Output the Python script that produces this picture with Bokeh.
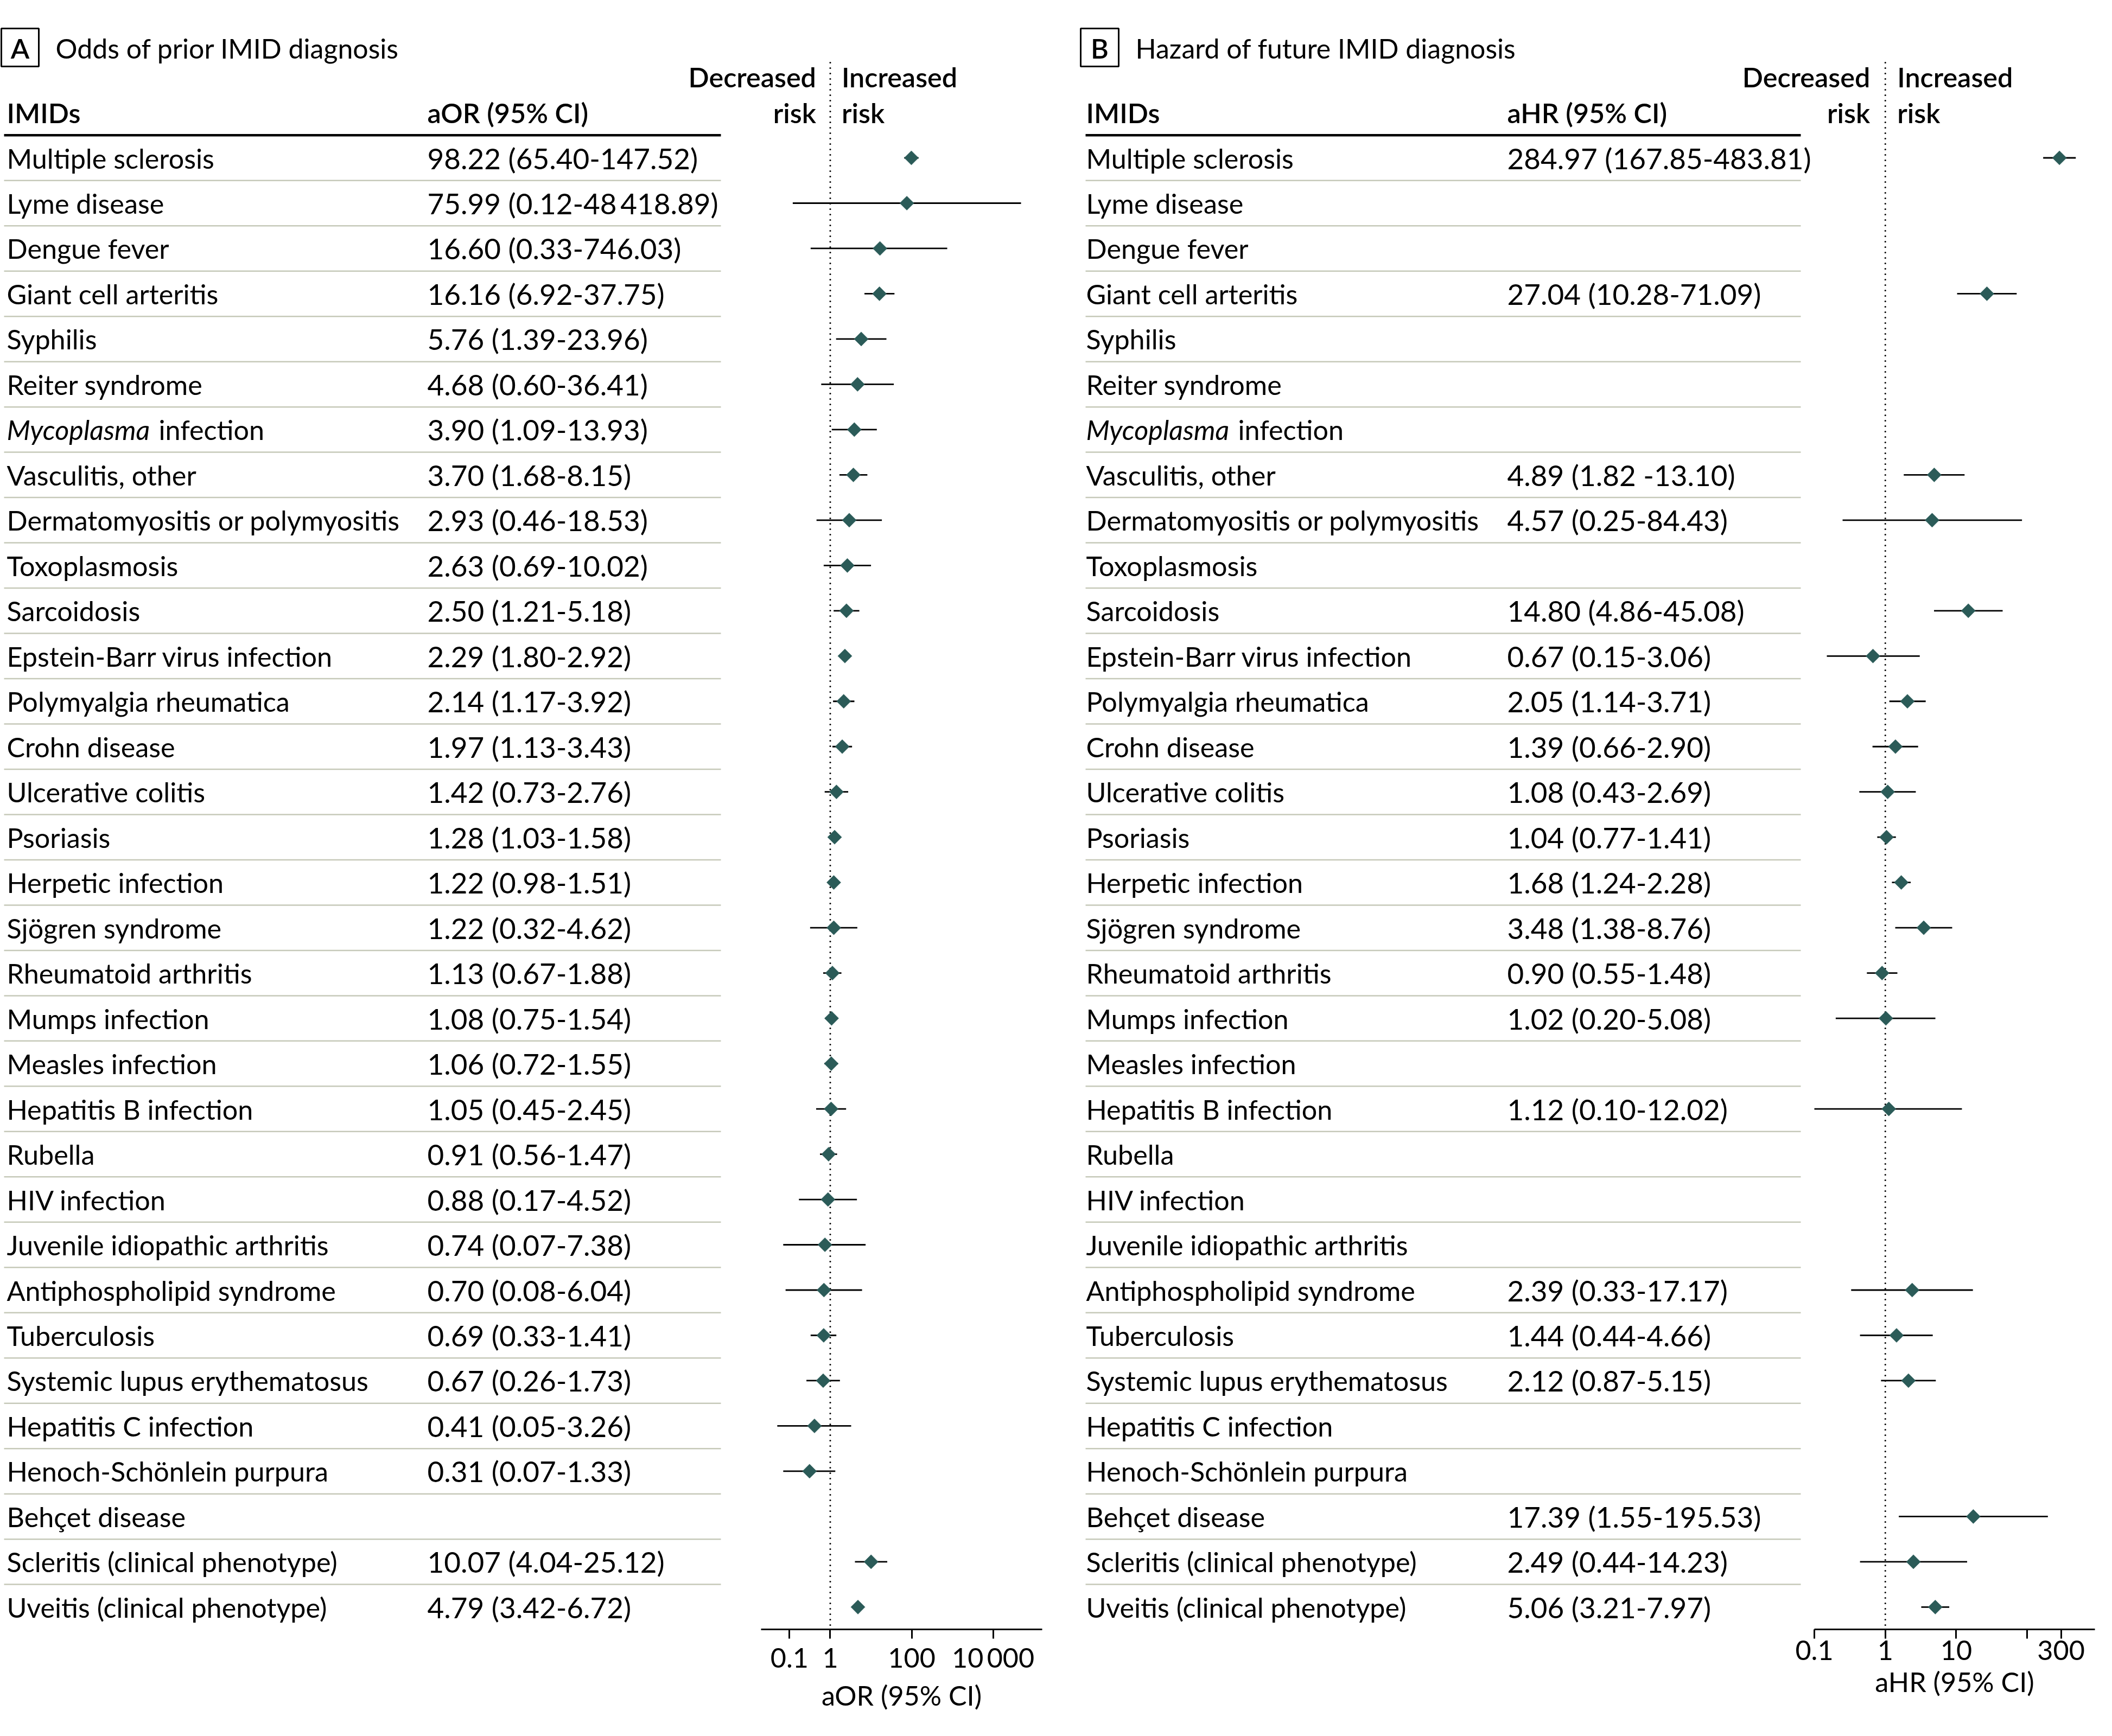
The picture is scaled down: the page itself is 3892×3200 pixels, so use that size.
import math
import json
import numpy as np
from bokeh.plotting import figure
from bokeh.models import Range1d, LogScale, FixedTicker, CustomJSTickFormatter, Spacer
from bokeh.layouts import column, row
from bokeh.embed import file_html
from bokeh.resources import INLINE
from bokeh.core.properties import value

nan = float("nan")

# ---------------- data ----------------
imids = ["Multiple sclerosis", "Lyme disease", "Dengue fever", "Giant cell arteritis", "Syphilis",
         "Reiter syndrome", "Mycoplasma infection", "Vasculitis, other", "Dermatomyositis or polymyositis",
         "Toxoplasmosis", "Sarcoidosis", "Epstein-Barr virus infection", "Polymyalgia rheumatica",
         "Crohn disease", "Ulcerative colitis", "Psoriasis", "Herpetic infection", "Sjögren syndrome",
         "Rheumatoid arthritis", "Mumps infection", "Measles infection", "Hepatitis B infection", "Rubella",
         "HIV infection", "Juvenile idiopathic arthritis", "Antiphospholipid syndrome", "Tuberculosis",
         "Systemic lupus erythematosus", "Hepatitis C infection", "Henoch-Schönlein purpura",
         "Behçet disease", "Scleritis (clinical phenotype)", "Uveitis (clinical phenotype)"]

aor = [98.22, 75.99, 16.60, 16.16, 5.76, 4.68, 3.90, 3.70, 2.93, 2.63, 2.50, 2.29, 2.14, 1.97, 1.42, 1.28,
       1.22, 1.22, 1.13, 1.08, 1.06, 1.05, 0.91, 0.88, 0.74, 0.70, 0.69, 0.67, 0.41, 0.31, nan, 10.07, 4.79]
aor_lo = [65.40, 0.12, 0.33, 6.92, 1.39, 0.60, 1.09, 1.68, 0.46, 0.69, 1.21, 1.80, 1.17, 1.13, 0.73, 1.03,
          0.98, 0.32, 0.67, 0.75, 0.72, 0.45, 0.56, 0.17, 0.07, 0.08, 0.33, 0.26, 0.05, 0.07, nan, 4.04, 3.42]
aor_hi = [147.52, 48418.89, 746.03, 37.75, 23.96, 36.41, 13.93, 8.15, 18.53, 10.02, 5.18, 2.92, 3.92, 3.43,
          2.76, 1.58, 1.51, 4.62, 1.88, 1.54, 1.55, 2.45, 1.47, 4.52, 7.38, 6.04, 1.41, 1.73, 3.26, 1.33, nan,
          25.12, 6.72]
aor_labels = ["98.22 (65.40-147.52)", "75.99 (0.12-48\u2009418.89)", "16.60 (0.33-746.03)",
              "16.16 (6.92-37.75)", "5.76 (1.39-23.96)", "4.68 (0.60-36.41)", "3.90 (1.09-13.93)",
              "3.70 (1.68-8.15)", "2.93 (0.46-18.53)", "2.63 (0.69-10.02)", "2.50 (1.21-5.18)",
              "2.29 (1.80-2.92)", "2.14 (1.17-3.92)", "1.97 (1.13-3.43)", "1.42 (0.73-2.76)",
              "1.28 (1.03-1.58)", "1.22 (0.98-1.51)", "1.22 (0.32-4.62)", "1.13 (0.67-1.88)",
              "1.08 (0.75-1.54)", "1.06 (0.72-1.55)", "1.05 (0.45-2.45)", "0.91 (0.56-1.47)",
              "0.88 (0.17-4.52)", "0.74 (0.07-7.38)", "0.70 (0.08-6.04)", "0.69 (0.33-1.41)",
              "0.67 (0.26-1.73)", "0.41 (0.05-3.26)", "0.31 (0.07-1.33)", "", "10.07 (4.04-25.12)",
              "4.79 (3.42-6.72)"]

ahr = [284.97, nan, nan, 27.04, nan, nan, nan, 4.89, 4.57, nan, 14.80, 0.67, 2.05, 1.39, 1.08, 1.04, 1.68,
       3.48, 0.90, 1.02, nan, 1.12, nan, nan, nan, 2.39, 1.44, 2.12, nan, nan, 17.39, 2.49, 5.06]
ahr_lo = [167.85, nan, nan, 10.28, nan, nan, nan, 1.82, 0.25, nan, 4.86, 0.15, 1.14, 0.66, 0.43, 0.77, 1.24,
          1.38, 0.55, 0.20, nan, 0.10, nan, nan, nan, 0.33, 0.44, 0.87, nan, nan, 1.55, 0.44, 3.21]
ahr_hi = [483.81, nan, nan, 71.09, nan, nan, nan, 13.10, 84.43, nan, 45.08, 3.06, 3.71, 2.90, 2.69, 1.41,
          2.28, 8.76, 1.48, 5.08, nan, 12.02, nan, nan, nan, 17.17, 4.66, 5.15, nan, nan, 195.53, 14.23, 7.97]
ahr_labels = ["284.97 (167.85-483.81)", "", "", "27.04 (10.28-71.09)", "", "", "", "4.89 (1.82 -13.10)",
              "4.57 (0.25-84.43)", "", "14.80 (4.86-45.08)", "0.67 (0.15-3.06)", "2.05 (1.14-3.71)",
              "1.39 (0.66-2.90)", "1.08 (0.43-2.69)", "1.04 (0.77-1.41)", "1.68 (1.24-2.28)",
              "3.48 (1.38-8.76)", "0.90 (0.55-1.48)", "1.02 (0.20-5.08)", "", "1.12 (0.10-12.02)", "", "",
              "", "2.39 (0.33-17.17)", "1.44 (0.44-4.66)", "2.12 (0.87-5.15)", "", "", "17.39 (1.55-195.53)",
              "2.49 (0.44-14.23)", "5.06 (3.21-7.97)"]

aor_ticks = [0.1, 1, 100, 10000]
aor_tick_labels = ["0.1", "1", "100", "10\u2009000"]
ahr_ticks = [0.1, 1, 10, 100, 300]
ahr_tick_labels = ["0.1", "1", "10", "", "300"]
aor_axis_range = (0.02, 160000)
ahr_axis_range = (0.1, 900)

# ---------------- layout constants (page pixels) ----------------
W = 3876
X_LEFT, X_RIGHT = 0, W
Y_TOP, AX_Y = 0, 3002
AX_H = 182
ROW0, PITCH = 290.5, 83.48
FONT = "Lato"
HEAD_FONT = "'Lato Semibold', 'Lato SemiBold', Lato"
FS = "50.3px"
TFS = "50px"
VFS = "53px"
DIAMOND = "#2b5b58"
SEP = "#c6c9b9"
ITALIC_PART = "Mycoplasma"

panels = [
    dict(letter="A", title="Odds of prior IMID diagnosis", stat="aOR (95% CI)", est=aor, lo=aor_lo, hi=aor_hi,
         labels=aor_labels, ticks=aor_ticks, tick_labels=aor_tick_labels, rng=aor_axis_range,
         ax_px=(1402, 1920), name_x=12, val_x=787, rule=(7, 1328), box=(2, 71), title_x=102,
         myco_gap=280, dec_off=-26, inc_off=21),
    dict(letter="B", title="Hazard of future IMID diagnosis", stat="aHR (95% CI)", est=ahr, lo=ahr_lo, hi=ahr_hi,
         labels=ahr_labels, ticks=ahr_ticks, tick_labels=ahr_tick_labels, rng=ahr_axis_range,
         ax_px=(3343, 3860), name_x=2001, val_x=2777, rule=(2000, 3318), box=(1991, 2061), title_x=2092,
         myco_gap=280, dec_off=-28, inc_off=22),
]


def log_extra(ax_px, rng):
    l0, l1 = math.log10(rng[0]), math.log10(rng[1])
    dpp = (l1 - l0) / (ax_px[1] - ax_px[0])
    return Range1d(start=10 ** (l0 - (ax_px[0] - X_LEFT) * dpp), end=10 ** (l1 + (X_RIGHT - ax_px[1]) * dpp))


p = figure(width=W, height=AX_Y - Y_TOP, x_range=Range1d(X_LEFT, X_RIGHT), y_range=Range1d(AX_Y, Y_TOP),
           output_backend="svg", toolbar_location=None, min_border=0,
           x_axis_location=None, y_axis_location=None, outline_line_color=None)
p.grid.visible = False
p.extra_y_ranges = {"rows": Range1d(start=(AX_Y - ROW0) / PITCH, end=(Y_TOP - ROW0) / PITCH)}
p.extra_x_ranges = {f"log{pn['letter']}": log_extra(pn["ax_px"], pn["rng"]) for pn in panels}
p.extra_x_scales = {f"log{pn['letter']}": LogScale() for pn in panels}

idx = np.arange(len(imids), dtype=float)
myco_i = [i for i, n in enumerate(imids) if n.startswith(ITALIC_PART)][0]
plain_names = ["" if i == myco_i else n for i, n in enumerate(imids)]

txt = dict(text_font=value(FONT), text_font_size=FS, text_color="black")
head = dict(text_font=value(HEAD_FONT), text_font_size=FS, text_color="black")

for pn in panels:
    lx = f"log{pn['letter']}"
    # panel letter box and title
    b0, b1 = pn["box"]
    p.quad(left=[b0], right=[b1], top=[52], bottom=[122], fill_color=None, line_color="black", line_width=3)
    p.text(x=[(b0 + b1) / 2], y=[88], text=[pn["letter"]], text_align="center", text_baseline="middle", **head)
    p.text(x=[pn["title_x"]], y=[88], text=[pn["title"]], text_align="left", text_baseline="middle",
           text_font=value(FONT), text_font_size=TFS, text_color="black")
    # headers
    p.text(x=[pn["name_x"], pn["val_x"]], y=[-1, -1], text=["IMIDs", pn["stat"]], y_range_name="rows",
           text_align="left", text_baseline="middle", **head)
    p.segment(x0=[pn["rule"][0]], x1=[pn["rule"][1]], y0=[-0.5], y1=[-0.5], y_range_name="rows",
              line_color="black", line_width=4.5)
    # row separators
    p.segment(x0=pn["rule"][0], x1=pn["rule"][1], y0=idx[:-1] + 0.5, y1=idx[:-1] + 0.5, y_range_name="rows",
              line_color=SEP, line_width=2.5)
    # row texts
    p.text(x=pn["name_x"], y=idx, text=plain_names, y_range_name="rows", text_align="left",
           text_baseline="middle", **txt)
    p.text(x=[pn["name_x"]], y=[myco_i], text=[ITALIC_PART], y_range_name="rows", text_align="left",
           text_baseline="middle", text_font_style="italic", **txt)
    p.text(x=[pn["name_x"] + pn["myco_gap"]], y=[myco_i], text=[imids[myco_i][len(ITALIC_PART) + 1:]],
           y_range_name="rows", text_align="left", text_baseline="middle", **txt)
    p.text(x=pn["val_x"], y=idx, text=pn["labels"], y_range_name="rows", text_align="left",
           text_baseline="middle", text_font=value(FONT), text_font_size=VFS, text_color="black")
    # reference line at 1 and risk labels
    p.segment(x0=[1], x1=[1], y0=[115], y1=[AX_Y], x_range_name=lx, line_color="black", line_width=3.2,
              line_dash="0 10", line_cap="round")
    p.text(x=[1, 1], y=[141, 207], text=["Decreased", "risk"], x_range_name=lx, x_offset=pn["dec_off"],
           text_align="right", text_baseline="middle", **head)
    p.text(x=[1, 1], y=[141, 207], text=["Increased", "risk"], x_range_name=lx, x_offset=pn["inc_off"],
           text_align="left", text_baseline="middle", **head)
    # forest marks
    p.segment(x0=np.array(pn["lo"]), x1=np.array(pn["hi"]), y0=idx, y1=idx, x_range_name=lx,
              y_range_name="rows", line_color="black", line_width=2.8)
    p.scatter(x=np.array(pn["est"]), y=idx, x_range_name=lx, y_range_name="rows", marker="square",
              angle=math.pi / 4, size=18.5, fill_color=DIAMOND, line_color=DIAMOND, line_width=0.5)


def axis_fig(pn, width, bl, br):
    f = figure(width=width, height=AX_H, x_axis_type="log", x_range=Range1d(*pn["rng"]), y_range=Range1d(0, 1),
               output_backend="svg", toolbar_location=None, min_border_left=bl, min_border_right=br,
               min_border_top=0, min_border_bottom=AX_H - 1, y_axis_location=None, outline_line_color=None)
    f.grid.visible = False
    ax = f.xaxis[0]
    ax.ticker = FixedTicker(ticks=pn["ticks"], minor_ticks=[])
    mapping = {str(t): l for t, l in zip(pn["ticks"], pn["tick_labels"])}
    ax.formatter = CustomJSTickFormatter(
        code="const m = " + json.dumps(mapping) + "; const k = String(tick); return (k in m) ? m[k] : '';")
    ax.axis_line_width = 3
    ax.axis_line_color = "black"
    ax.major_tick_line_width = 3
    ax.major_tick_line_color = "black"
    ax.major_tick_out = 17
    ax.major_tick_in = 0
    ax.minor_tick_line_color = None
    ax.major_label_text_font = FONT
    ax.major_label_text_font_size = FS
    ax.major_label_text_color = "black"
    ax.major_label_standoff = 3
    ax.axis_label = pn["stat"]
    ax.axis_label_text_font = FONT
    ax.axis_label_text_font_size = FS
    ax.axis_label_text_font_style = "normal"
    ax.axis_label_text_color = "black"
    ax.axis_label_standoff = 6
    return f


fa = axis_fig(panels[0], 610, 52, 40)
fb = axis_fig(panels[1], 586, 53, 16)
bottom = row(Spacer(width=1350, height=AX_H), fa, Spacer(width=1330, height=AX_H), fb)
layout = column(p, bottom)

open("out.html", "w").write(file_html(layout, INLINE))
